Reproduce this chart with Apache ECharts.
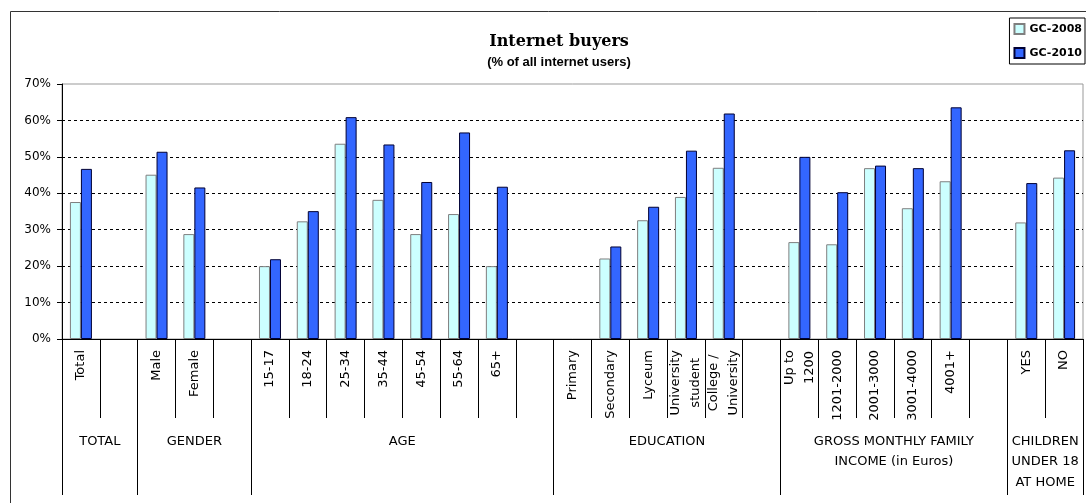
<!DOCTYPE html>
<html>
<head>
  <meta charset="UTF-8">
  <title>Internet buyers</title>
  <script src="https://cdn.jsdelivr.net/npm/echarts@6/dist/echarts.min.js"></script>
  <style>
    html, body { margin: 0; padding: 0; background: #fff; }
    #chart { width: 1086px; height: 503px; }
  </style>
</head>
<body>
  <div id="chart"></div>
  <script>
    // categories ('' = spacer column between groups)
    const categories = [
      'Total', '',
      'Male', 'Female', '',
      '15-17', '18-24', '25-34', '35-44', '45-54', '55-64', '65+', '',
      'Primary', 'Secondary', 'Lyceum', 'University\nstudent', 'College /\nUniversity', '',
      'Up to\n1200', '1201-2000', '2001-3000', '3001-4000', '4001+', '',
      'YES', 'NO'
    ];
    // % of all internet users
    const gc2008 = [
      37.6, null,
      45.1, 28.8, null,
      20.0, 32.3, 53.6, 38.2, 28.8, 34.3, 20.0, null,
      null, 22.1, 32.6, 39.0, 47.0, null,
      26.6, 26.0, 46.9, 35.9, 43.3, null,
      32.0, 44.3
    ];
    const gc2010 = [
      46.7, null,
      51.4, 41.6, null,
      21.9, 35.1, 60.9, 53.4, 43.1, 56.7, 41.8, null,
      null, 25.4, 36.3, 51.7, 61.9, null,
      50.0, 40.3, 47.6, 46.9, 63.6, null,
      42.8, 51.8
    ];
    // group labels and how many columns each one covers
    const groupNames = ['TOTAL', 'GENDER', 'AGE', 'EDUCATION', 'GROSS MONTHLY FAMILY\nINCOME (in Euros)', 'CHILDREN\nUNDER 18\nAT HOME'];
    const groupSizes = [2, 3, 8, 6, 6, 2];

    // group boundaries and centres on a 0..27 value scale
    const bounds = [0];
    groupSizes.forEach(n => bounds.push(bounds[bounds.length - 1] + n));
    const centers = groupSizes.map((n, i) => bounds[i] + n / 2);

    const font = 'DejaVu Sans';

    const chart = echarts.init(document.getElementById('chart'));
    chart.setOption({
      animation: false,
      title: {
        text: 'Internet buyers',
        subtext: '(% of all internet users)',
        left: 554,
        top: 29,
        textAlign: 'center',
        itemGap: 6,
        textStyle: { fontFamily: 'DejaVu Serif', fontWeight: 'bold', fontSize: 16, color: '#000' },
        subtextStyle: { fontFamily: 'Liberation Sans', fontWeight: 'bold', fontSize: 13, color: '#000' }
      },
      legend: {
        orient: 'vertical',
        right: 1,
        top: 18,
        padding: [5, 3, 5, 4],
        itemWidth: 10,
        itemHeight: 10,
        itemGap: 12,
        borderColor: '#000',
        borderWidth: 1,
        icon: 'rect',
        textStyle: { fontFamily: font, fontWeight: 'bold', fontSize: 11, color: '#000' },
        data: ['GC-2008', 'GC-2010']
      },
      graphic: [{
        type: 'rect',
        shape: { x: 10.5, y: 11.5, width: 1090, height: 600 },
        style: { fill: 'none', stroke: '#333', lineWidth: 1 },
        silent: true
      }],
      grid: {
        left: 62,
        right: 3,
        top: 84,
        bottom: 164,
        show: true,
        borderColor: '#999',
        borderWidth: 1
      },
      xAxis: [{
        type: 'category',
        data: categories,
        axisLine: { lineStyle: { color: '#000', width: 1 } },
        axisTick: { show: true, interval: 0, length: 79, lineStyle: { color: '#000' } },
        axisLabel: {
          interval: 0,
          rotate: 90,
          margin: 11,
          color: '#000',
          formatter: v => v ? v.split('\n').map(s => '{c|' + s + '}').join('\n') : '',
          rich: { c: { align: 'center', fontFamily: font, fontSize: 13, lineHeight: 20, color: '#000' } }
        }
      }, {
        type: 'value',
        position: 'bottom',
        offset: 79,
        min: 0,
        max: 27,
        axisLine: { show: false },
        splitLine: { show: false },
        axisTick: { show: true, customValues: bounds, length: 77, lineStyle: { color: '#000' } },
        axisLabel: {
          customValues: centers,
          margin: 13,
          fontFamily: font,
          fontSize: 13,
          lineHeight: 20.5,
          color: '#000',
          formatter: v => groupNames[centers.indexOf(v)] || ''
        }
      }],
      yAxis: {
        type: 'value',
        min: 0,
        max: 70,
        interval: 10,
        axisLine: { show: true, lineStyle: { color: '#000' } },
        axisTick: { show: true, length: 5, lineStyle: { color: '#000' } },
        axisLabel: { formatter: '{value}%', fontFamily: font, fontSize: 12, color: '#000', margin: 11 },
        splitLine: {
          lineStyle: {
            type: [3, 3],
            color: ['#000', '#000', '#000', '#000', '#000', '#000', '#000', 'transparent']
          }
        }
      },
      series: [{
        name: 'GC-2008',
        type: 'bar',
        data: gc2008,
        barWidth: 11,
        barGap: '0%',
        itemStyle: { color: '#CCFFFF', borderColor: '#7f7f7f', borderWidth: 1 }
      }, {
        name: 'GC-2010',
        type: 'bar',
        data: gc2010,
        barWidth: 11,
        barGap: '0%',
        itemStyle: { color: '#3366FF', borderColor: '#000033', borderWidth: 1 }
      }]
    });
  </script>
</body>
</html>
